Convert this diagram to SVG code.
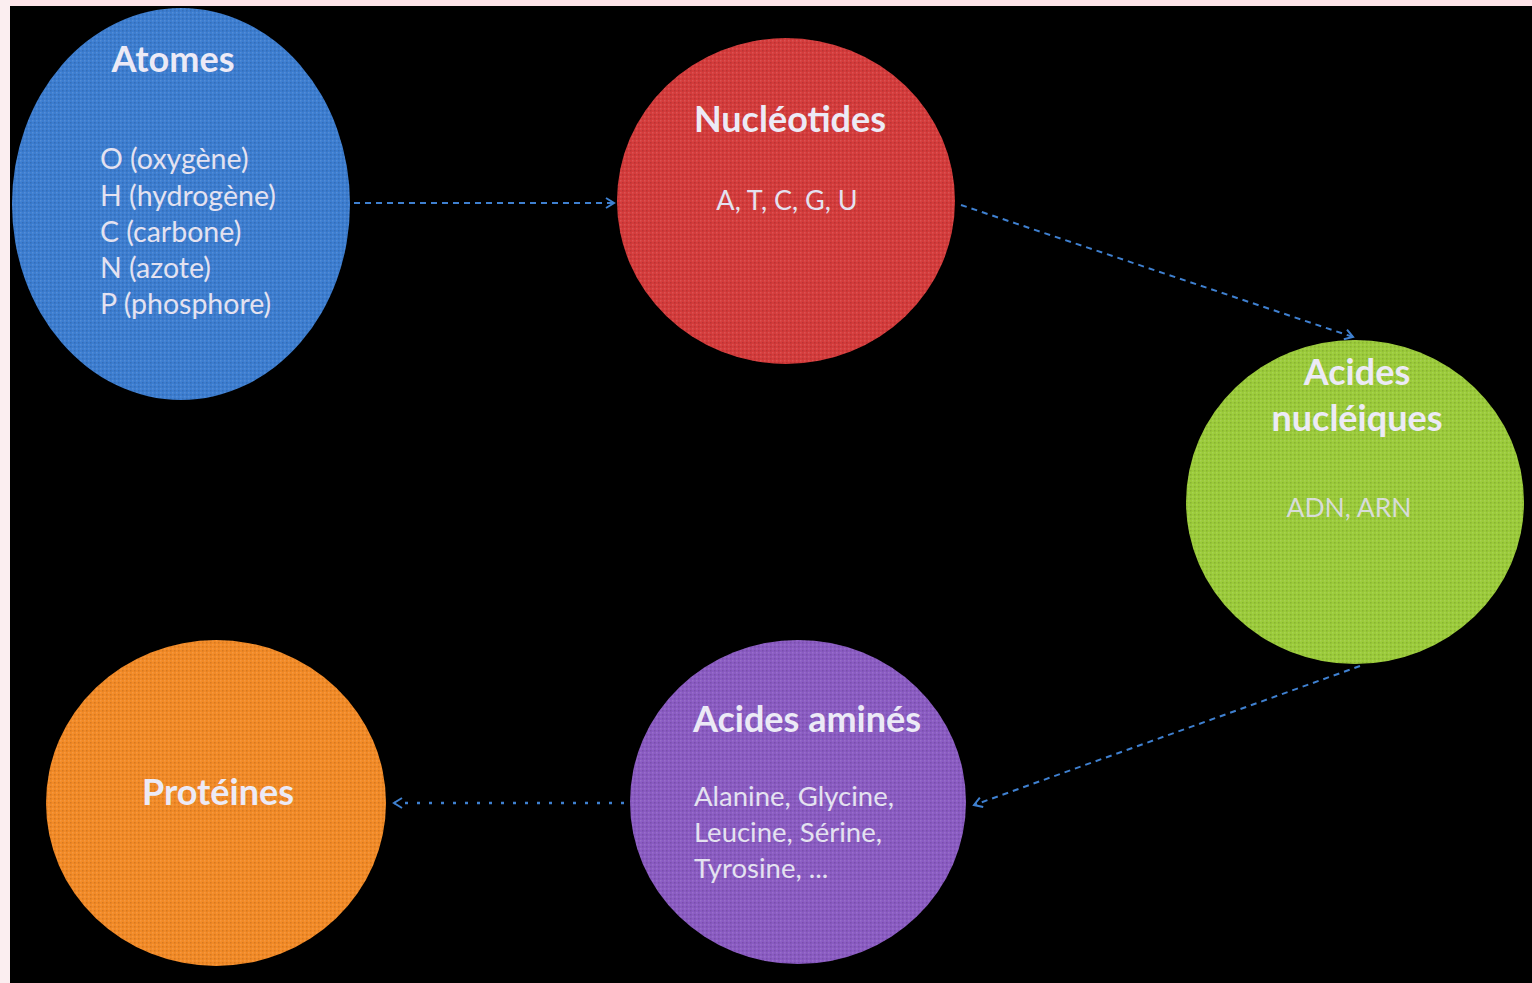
<svg xmlns="http://www.w3.org/2000/svg" width="1532" height="983" viewBox="0 0 1532 983">
<style>
.title{font-family:Lato,"Open Sans","Liberation Sans",sans-serif;font-weight:bold;font-size:36px;fill:#eceaf6;text-anchor:middle}
.body{font-family:Lato,"Open Sans","Liberation Sans",sans-serif;font-size:28px;fill:#e4e2f0}
.conn{fill:none;stroke:#3f80d0;stroke-width:2;stroke-dasharray:6 5}
.dot{fill:none;stroke:#3f80d0;stroke-width:2.5;stroke-dasharray:3 9}
</style>
<defs>
<marker id="arr" markerWidth="12" markerHeight="12" refX="10" refY="6" orient="auto" markerUnits="userSpaceOnUse">
<path d="M2,1 L10,6 L2,11" fill="none" stroke="#3f80d0" stroke-width="2"/>
</marker>
<pattern id="dither" width="4" height="4" patternUnits="userSpaceOnUse">
<rect x="0" y="0" width="1.5" height="1.5" fill="#ffffff" opacity="0.12"/>
<rect x="2" y="2" width="1.5" height="1.5" fill="#000000" opacity="0.12"/>
</pattern>
</defs>
<rect x="0" y="0" width="1532" height="983" fill="#fde3e8"/>
<rect x="0" y="0" width="10" height="983" fill="#fbeef0"/>
<rect x="10" y="6" width="1522" height="977" fill="#000000"/>

<g id="connectors">
<line class="conn" x1="354" y1="203" x2="614" y2="203" marker-end="url(#arr)"/>
<line class="conn" x1="961" y1="205" x2="1353" y2="337" marker-end="url(#arr)"/>
<line class="conn" x1="1360" y1="666" x2="974" y2="805" marker-end="url(#arr)"/>
<line class="dot" x1="624" y1="803" x2="394" y2="803" marker-end="url(#arr)"/>
</g>

<g id="atomes">
<ellipse cx="181" cy="204" rx="169" ry="196" fill="#3c7dd0"/>
<ellipse cx="181" cy="204" rx="169" ry="196" fill="url(#dither)"/>
<text class="title" x="173" y="72">Atomes</text>
<text class="body" x="100" y="169" style="font-size:28.5px">O (oxygène)</text>
<text class="body" x="100" y="206" style="font-size:28.5px">H (hydrogène)</text>
<text class="body" x="100" y="242" style="font-size:28.5px">C (carbone)</text>
<text class="body" x="100" y="278" style="font-size:28.5px">N (azote)</text>
<text class="body" x="100" y="314" style="font-size:28.5px">P (phosphore)</text>
</g>

<g id="nucleotides">
<ellipse cx="786" cy="201" rx="169" ry="163" fill="#d43b3b"/>
<ellipse cx="786" cy="201" rx="169" ry="163" fill="url(#dither)"/>
<text class="title" x="790" y="132">Nucléotides</text>
<text class="body" x="787" y="210" text-anchor="middle" style="font-size:27px">A, T, C, G, U</text>
</g>

<g id="acides-nucleiques">
<ellipse cx="1355" cy="502" rx="169" ry="162" fill="#9bcb3a"/>
<ellipse cx="1355" cy="502" rx="169" ry="162" fill="url(#dither)"/>
<text class="title" x="1357" y="385">Acides</text>
<text class="title" x="1357" y="431">nucléiques</text>
<text class="body" x="1349" y="517" text-anchor="middle" style="fill:#d8dcd8;font-size:26.5px">ADN, ARN</text>
</g>

<g id="acides-amines">
<ellipse cx="798" cy="802" rx="168" ry="162" fill="#8a5bc2"/>
<ellipse cx="798" cy="802" rx="168" ry="162" fill="url(#dither)"/>
<text class="title" x="807" y="732">Acides aminés</text>
<text class="body" x="694" y="806" style="font-size:27.5px">Alanine, Glycine,</text>
<text class="body" x="694" y="842" style="font-size:27.5px">Leucine, Sérine,</text>
<text class="body" x="694" y="878" style="font-size:27.5px">Tyrosine, ...</text>
</g>

<g id="proteines">
<ellipse cx="216" cy="803" rx="170" ry="163" fill="#f28a26"/>
<ellipse cx="216" cy="803" rx="170" ry="163" fill="url(#dither)"/>
<text class="title" x="218" y="805">Protéines</text>
</g>
</svg>
